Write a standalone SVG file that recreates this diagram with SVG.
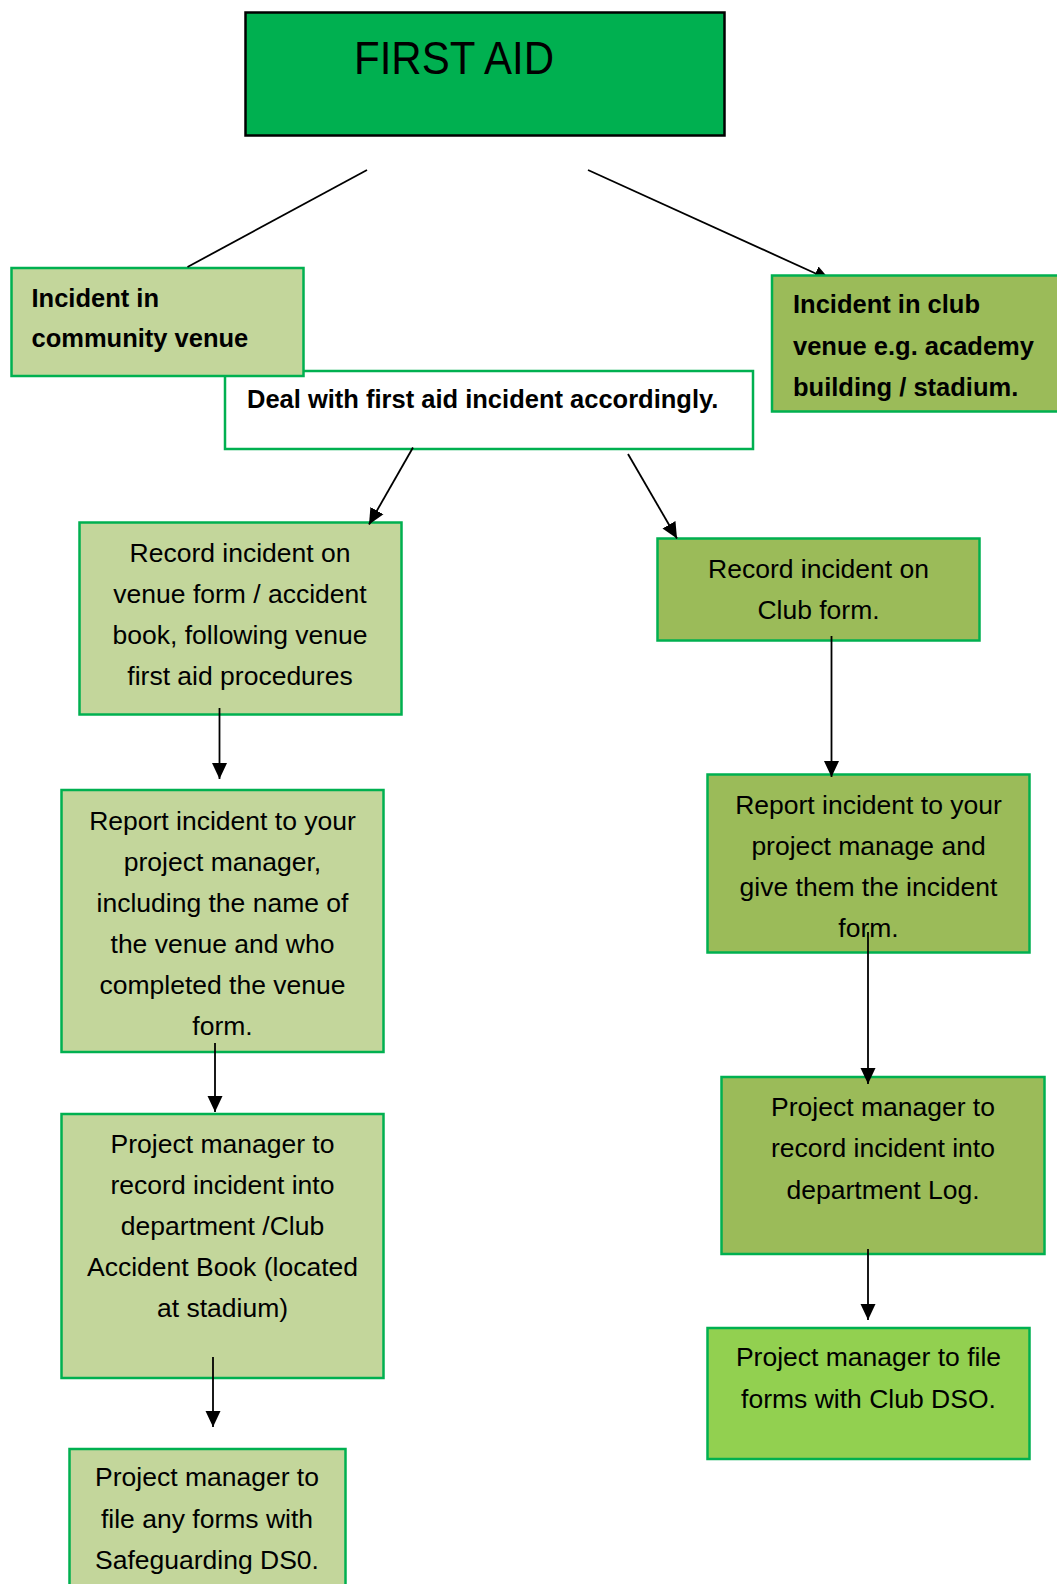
<svg xmlns="http://www.w3.org/2000/svg" width="1057" height="1584" viewBox="0 0 1057 1584">
<style>
.box{stroke:#00B050;stroke-width:2.5}
.lt{fill:#C3D69B}
.dk{fill:#9BBB59}
.br{fill:#92D050}
.t{font-family:"Liberation Sans",Arial,sans-serif;font-size:26.5px;fill:#000;text-anchor:middle}
.b{font-family:"Liberation Sans",Arial,sans-serif;font-size:25.5px;font-weight:bold;fill:#000}
.c{stroke:#000;stroke-width:1.8;fill:none}
</style>
<defs>
<marker id="ah" markerUnits="userSpaceOnUse" markerWidth="18" markerHeight="18" viewBox="0 0 18 18" refX="16" refY="9" orient="auto">
<path d="M0,1.5 L16,9 L0,16.5 Z" fill="#000"/>
</marker>
</defs>
<rect width="1057" height="1584" fill="#fff"/>
<g id="first-aid">
<rect x="245.5" y="12.5" width="479" height="123" fill="#00B050" stroke="#000" stroke-width="2.5"/>
<text x="354" y="74" font-family="Liberation Sans,Arial,sans-serif" font-size="47" textLength="200" lengthAdjust="spacingAndGlyphs">FIRST AID</text>
</g>
<g id="deal">
<rect class="box" x="225" y="371" width="528" height="78" fill="#fff"/>
<text class="b" x="247" y="408">Deal with first aid incident accordingly.</text>
</g>
<g id="community">
<rect class="box lt" x="11.5" y="268" width="292" height="108"/>
<text class="b" x="31.5" y="306.5">Incident in</text>
<text class="b" x="31.5" y="346.5">community venue</text>
</g>
<g id="record-venue">
<rect class="box lt" x="79.5" y="522.5" width="322" height="192"/>
<text class="t" x="240" y="562">Record incident on</text>
<text class="t" x="240" y="603">venue form / accident</text>
<text class="t" x="240" y="644">book, following venue</text>
<text class="t" x="240" y="685">first aid procedures</text>
</g>
<g id="record-club">
<rect class="box dk" x="657.5" y="538.5" width="322" height="102"/>
<text class="t" x="818.5" y="578">Record incident on</text>
<text class="t" x="818.5" y="619">Club form.</text>
</g>
<g id="report-venue">
<rect class="box lt" x="61.5" y="790" width="322" height="262"/>
<text class="t" x="222.5" y="829.5">Report incident to your</text>
<text class="t" x="222.5" y="870.5">project manager,</text>
<text class="t" x="222.5" y="911.5">including the name of</text>
<text class="t" x="222.5" y="952.5">the venue and who</text>
<text class="t" x="222.5" y="993.5">completed the venue</text>
<text class="t" x="222.5" y="1034.5">form.</text>
</g>
<g id="report-club">
<rect class="box dk" x="707.5" y="774.5" width="322" height="178"/>
<text class="t" x="868.5" y="813.5">Report incident to your</text>
<text class="t" x="868.5" y="854.5">project manage and</text>
<text class="t" x="868.5" y="895.5">give them the incident</text>
<text class="t" x="868.5" y="936.5">form.</text>
</g>
<g id="record-book">
<rect class="box lt" x="61.5" y="1114" width="322" height="264"/>
<text class="t" x="222.5" y="1153">Project manager to</text>
<text class="t" x="222.5" y="1194">record incident into</text>
<text class="t" x="222.5" y="1235">department /Club</text>
<text class="t" x="222.5" y="1276">Accident Book (located</text>
<text class="t" x="222.5" y="1317">at stadium)</text>
</g>
<g id="record-log">
<rect class="box dk" x="721.5" y="1077" width="323" height="177"/>
<text class="t" x="883" y="1115.5">Project manager to</text>
<text class="t" x="883" y="1157">record incident into</text>
<text class="t" x="883" y="1198.5">department Log.</text>
</g>
<g id="file-safeguarding">
<rect class="box lt" x="69.5" y="1449" width="276" height="145"/>
<text class="t" x="207" y="1486">Project manager to</text>
<text class="t" x="207" y="1527.5">file any forms with</text>
<text class="t" x="207" y="1569">Safeguarding DS0.</text>
</g>
<g id="file-club">
<rect class="box br" x="707.5" y="1328" width="322" height="131"/>
<text class="t" x="868.5" y="1366">Project manager to file</text>
<text class="t" x="868.5" y="1407.5">forms with Club DSO.</text>
</g>
<g id="connectors">
<line class="c" x1="367" y1="170" x2="187.5" y2="267"/>
<line class="c" x1="588" y1="170" x2="830" y2="280" marker-end="url(#ah)"/>
<line class="c" x1="413" y1="447.5" x2="369" y2="524.5" marker-end="url(#ah)"/>
<line class="c" x1="628" y1="454" x2="677" y2="538.5" marker-end="url(#ah)"/>
<line class="c" x1="219.5" y1="708" x2="219.5" y2="779" marker-end="url(#ah)"/>
<line class="c" x1="831.5" y1="636" x2="831.5" y2="777" marker-end="url(#ah)"/>
<line class="c" x1="215" y1="1043" x2="215" y2="1112" marker-end="url(#ah)"/>
<line class="c" x1="868" y1="932" x2="868" y2="1084" marker-end="url(#ah)"/>
<line class="c" x1="213" y1="1357" x2="213" y2="1427" marker-end="url(#ah)"/>
<line class="c" x1="868" y1="1249" x2="868" y2="1320" marker-end="url(#ah)"/>
</g>
<g id="club">
<rect class="box dk" x="772" y="275.5" width="290" height="136"/>
<text class="b" x="793" y="313">Incident in club</text>
<text class="b" x="793" y="354.5">venue e.g. academy</text>
<text class="b" x="793" y="396">building / stadium.</text>
</g>
</svg>
